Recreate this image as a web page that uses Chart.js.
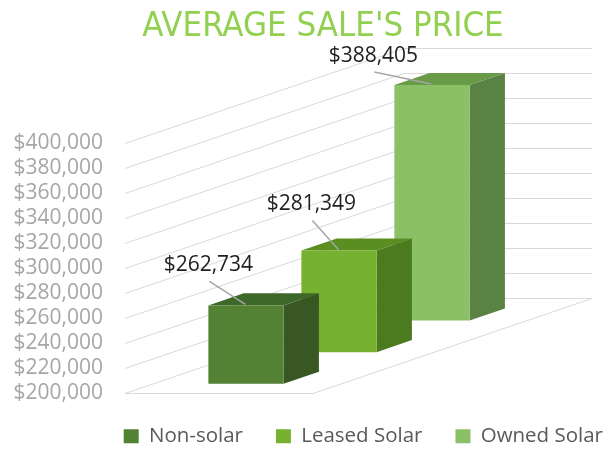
<!DOCTYPE html>
<html>
<head>
<meta charset="utf-8">
<script src="https://cdn.jsdelivr.net/npm/chart.js@4.4.1/dist/chart.umd.min.js"></script>
<style>
  html, body { margin: 0; padding: 0; background: #fff; }
</style>
</head>
<body>
<canvas id="chart" width="607" height="449"></canvas>
<script>
// data
const categories = ['Average sale price'];
const seriesNames = ['Non-solar', 'Leased Solar', 'Owned Solar'];
const seriesValues = [262734, 281349, 388405];
const yMin = 200000;
const yMax = 400000;
const yStep = 20000;

// look
const frontColors = ['#548235', '#76b12f', '#8bc066'];
const topColors = ['#3e6827', '#5b8e20', '#689a48'];
const sideColors = ['#385723', '#4c7a1f', '#5a8244'];
const labelOffsets = [[0, -34], [10, -40], [-21, -23]]; // label centre/baseline vs bar front top-left

// oblique depth of the floor
const WALL_DX = 279;
const WALL_DY = -95;
const SLOT_START = 0.29;
const BAR_DEPTH = 0.38;

const money = v => '$' + Math.round(v).toLocaleString('en-US');

const barGeom = (chart, i) => {
    const n = chart.data.datasets.length;
    const bar = chart.getDatasetMeta(i).data[0];
    const y = chart.scales.y;
    const f = (i + SLOT_START) / n;
    const ox = f * WALL_DX, oy = f * WALL_DY;
    return {
        x0: bar.x - bar.width / 2 + ox,
        x1: bar.x + bar.width / 2 + ox,
        yt: bar.y + oy,
        yb: y.getPixelForValue(yMin) + oy,
        bx: BAR_DEPTH / n * WALL_DX,
        by: BAR_DEPTH / n * WALL_DY
    };
};

const poly = (ctx, pts, color) => {
    ctx.beginPath();
    ctx.moveTo(pts[0][0], pts[0][1]);
    pts.slice(1).forEach(p => ctx.lineTo(p[0], p[1]));
    ctx.closePath();
    ctx.fillStyle = color;
    ctx.fill();
};

const box3d = {
    id: 'box3d',
    beforeDatasetsDraw(chart) {
        const { ctx, chartArea: a, scales: { y } } = chart;
        ctx.save();

        // walls
        ctx.strokeStyle = '#d9d9d9';
        ctx.lineWidth = 1;
        y.ticks.forEach(t => {
            const py = Math.round(y.getPixelForValue(t.value)) + 0.5;
            ctx.beginPath();
            ctx.moveTo(a.left, py);
            ctx.lineTo(a.left + WALL_DX, py + WALL_DY);
            ctx.lineTo(a.right + WALL_DX, py + WALL_DY);
            ctx.stroke();
        });
        // floor
        const fy = Math.round(y.getPixelForValue(yMin)) + 0.5;
        ctx.beginPath();
        ctx.moveTo(a.left, fy);
        ctx.lineTo(a.right, fy);
        ctx.lineTo(a.right + WALL_DX, fy + WALL_DY);
        ctx.stroke();

        // bars, back row first
        for (let i = chart.data.datasets.length - 1; i >= 0; i--) {
            const g = barGeom(chart, i);
            poly(ctx, [[g.x1, g.yt], [g.x1 + g.bx, g.yt + g.by], [g.x1 + g.bx, g.yb + g.by], [g.x1, g.yb]], sideColors[i]);
            poly(ctx, [[g.x0, g.yt], [g.x1, g.yt], [g.x1 + g.bx, g.yt + g.by], [g.x0 + g.bx, g.yt + g.by]], topColors[i]);
            poly(ctx, [[g.x0, g.yt], [g.x1, g.yt], [g.x1, g.yb], [g.x0, g.yb]], frontColors[i]);
        }
        ctx.restore();
        return false;
    },
    afterDraw(chart) {
        const { ctx } = chart;
        ctx.save();
        chart.data.datasets.forEach((ds, i) => {
            const g = barGeom(chart, i);
            const lx = g.x0 + labelOffsets[i][0];
            const ly = g.yt + labelOffsets[i][1];
            ctx.strokeStyle = '#a6a6a6';
            ctx.lineWidth = 1.5;
            ctx.beginPath();
            ctx.moveTo(lx + 1, ly + 10);
            ctx.lineTo(g.x0 + 37, g.yt - 1);
            ctx.stroke();
            ctx.fillStyle = '#1f1f1f';
            ctx.font = '21px "Open Sans"';
            ctx.textAlign = 'center';
            ctx.textBaseline = 'alphabetic';
            ctx.fillText(money(ds.data[0]), lx, ly);
        });
        ctx.restore();
    }
};

new Chart(document.getElementById('chart'), {
    type: 'bar',
    data: {
        labels: categories,
        datasets: seriesNames.map((name, i) => ({
            label: name,
            data: [seriesValues[i]],
            backgroundColor: frontColors[i],
            borderWidth: 0
        }))
    },
    options: {
        responsive: false,
        animation: false,
        grouped: false,
        barPercentage: 0.4,
        categoryPercentage: 1,
        layout: { padding: { left: 10, right: -29, top: 0, bottom: 0 } },
        plugins: {
            title: {
                display: true,
                text: "AVERAGE SALE'S PRICE",
                color: '#92d050',
                font: { family: '"Liberation Sans Narrow", "DejaVu Sans Condensed", sans-serif', size: 34.5, weight: 'normal' },
                padding: { top: 6, bottom: 95.6 }
            },
            legend: {
                position: 'bottom',
                align: 'end',
                maxHeight: 56,
                labels: {
                    boxWidth: 15,
                    boxHeight: 14,
                    color: '#595959',
                    padding: 33,
                    font: { family: '"Open Sans"', size: 20.5 }
                }
            },
            tooltip: { enabled: false }
        },
        scales: {
            x: { display: false },
            y: {
                min: yMin,
                max: yMax,
                grid: { display: false, drawTicks: false },
                border: { display: false },
                ticks: {
                    stepSize: yStep,
                    autoSkip: false,
                    padding: 22,
                    color: '#a6a6a6',
                    font: { family: '"Open Sans"', size: 21, lineHeight: 1 },
                    callback: v => money(v)
                },
                afterFit(s) { s.width = 115; }
            },
            y2: {
                type: 'linear',
                position: 'right',
                grid: { display: false },
                border: { display: false },
                ticks: { display: false },
                afterFit(s) { s.width = 323; }
            }
        }
    },
    plugins: [box3d]
});
</script>
</body>
</html>
